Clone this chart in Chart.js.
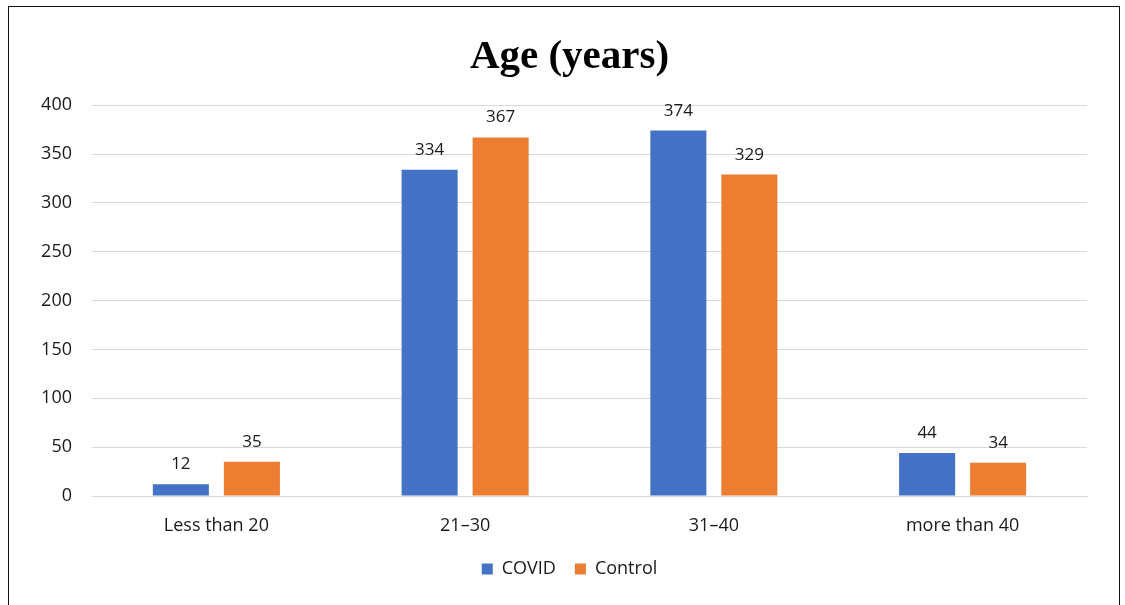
<!DOCTYPE html>
<html>
<head>
<meta charset="utf-8">
<script src="https://cdn.jsdelivr.net/npm/chart.js@4/dist/chart.umd.min.js"></script>
<style>
  html, body { margin: 0; padding: 0; background: #fff; }
  #wrap { position: relative; width: 1125px; height: 605px; overflow: hidden; }
  #frame { position: absolute; left: 8px; top: 6px; width: 1112px; height: 640px; border: 1.5px solid #111; box-sizing: border-box; pointer-events: none; }
  canvas { position: absolute; left: 0; top: 0; }
</style>
</head>
<body>
<div id="wrap">
  <canvas id="c" width="1125" height="605"></canvas>
  <div id="frame"></div>
</div>
<script>
const categories = ['Less than 20', '21\u201330', '31\u201340', 'more than 40'];
const covidValues = [12, 334, 374, 44];
const controlValues = [35, 367, 329, 34];
const yTicks = [0, 50, 100, 150, 200, 250, 300, 350, 400];

const labelFont = '"Open Sans", "Noto Sans", sans-serif';

// Value labels drawn above each bar
const barValueLabels = {
  id: 'barValueLabels',
  afterDatasetsDraw(chart) {
    const ctx = chart.ctx;
    ctx.save();
    ctx.font = '17px ' + labelFont;
    ctx.fillStyle = '#1a1a1a';
    ctx.textAlign = 'center';
    ctx.textBaseline = 'alphabetic';
    chart.data.datasets.forEach((ds, i) => {
      chart.getDatasetMeta(i).data.forEach((bar, j) => {
        ctx.fillText(String(ds.data[j]), bar.x, bar.y - 15);
      });
    });
    ctx.restore();
  }
};

// Centre the title and legend over the framed panel rather than the plot box
const panelCentering = {
  id: 'panelCentering',
  afterLayout(chart) {
    const shift = 52;
    [chart.titleBlock, chart.legend].forEach(box => {
      if (!box) return;
      box.left = shift;
      box.width = box.right - shift;
    });
  }
};

new Chart(document.getElementById('c'), {
  type: 'bar',
  data: {
    labels: categories,
    datasets: [
      { label: 'COVID', data: covidValues, backgroundColor: '#4472C4' },
      { label: 'Control', data: controlValues, backgroundColor: '#ED7D31' }
    ]
  },
  options: {
    responsive: false,
    animation: false,
    devicePixelRatio: 1,
    layout: { padding: { left: 0, right: 38, top: 0, bottom: 17 } },
    datasets: { bar: { categoryPercentage: 0.571, barPercentage: 0.789 } },
    plugins: {
      title: {
        display: true,
        text: 'Age (years)',
        color: '#000',
        font: { family: '"Liberation Serif", "Times New Roman", serif', size: 41, weight: 'bold' },
        padding: { top: 33, bottom: 23 }
      },
      legend: {
        position: 'bottom',
        labels: {
          color: '#1a1a1a',
          font: { family: labelFont, size: 18 },
          boxWidth: 11,
          boxHeight: 11,
          padding: 19
        }
      },
      tooltip: { enabled: false }
    },
    scales: {
      x: {
        afterFit(scale) { scale.height = 45; },
        grid: { display: false },
        border: { display: true, color: '#d9d9d9', width: 1 },
        ticks: { color: '#1a1a1a', font: { family: labelFont, size: 18 }, padding: 11 }
      },
      y: {
        min: 0,
        max: 400,
        afterFit(scale) { scale.width = 92; },
        afterBuildTicks(scale) { scale.ticks = yTicks.map(v => ({ value: v })); },
        grid: { color: '#d9d9d9', lineWidth: 1, drawTicks: false },
        border: { display: false },
        ticks: { color: '#1a1a1a', font: { family: labelFont, size: 18 }, padding: 20 }
      }
    }
  },
  plugins: [barValueLabels, panelCentering]
});
</script>
</body>
</html>
